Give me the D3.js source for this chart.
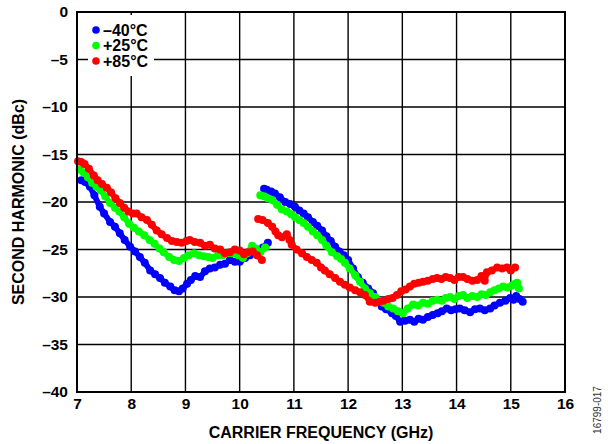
<!DOCTYPE html>
<html><head><meta charset="utf-8">
<script src="https://cdn.jsdelivr.net/npm/d3@7"></script>
<style>body{margin:0;background:#fff}svg{display:block;font-family:"Liberation Sans",Arial,sans-serif}</style>
</head><body><svg id="c" width="608" height="444"></svg>
<script>
const xTicks = [7,8,9,10,11,12,13,14,15,16];
const yTicks = [0,-5,-10,-15,-20,-25,-30,-35,-40];
const seriesNames = ["\u201340\u00B0C","+25\u00B0C","+85\u00B0C"];
const seriesColors = ["#0000ff","#00ff00","#ff0000"];

const blueSeg1 = [[7.08,-17.7],[7.15,-17.9],[7.24,-18.4],[7.32,-19.3],[7.42,-20.5],[7.5,-21.2],[7.61,-22.1],[7.7,-22.6],[7.79,-23.3],[7.88,-24.0],[7.98,-24.7],[8.07,-25.2],[8.16,-25.8],[8.25,-26.4],[8.35,-27.2],[8.44,-27.6],[8.53,-28.0],[8.62,-28.5],[8.72,-28.9],[8.8,-29.3],[8.88,-29.4],[8.95,-29.1],[9.03,-28.6],[9.1,-28.2],[9.18,-27.8],[9.27,-27.9],[9.36,-27.3],[9.45,-27.0],[9.54,-26.9],[9.64,-26.6],[9.73,-26.5],[9.82,-26.1],[9.91,-26.3],[10.0,-26.3],[10.1,-25.9],[10.19,-25.6],[10.27,-25.3],[10.34,-25.1],[10.43,-24.8],[10.52,-24.3]];
const blueSeg2 = [[10.45,-18.6],[10.5,-18.7],[10.58,-18.9],[10.65,-19.1],[10.74,-19.5],[10.84,-20.0],[10.93,-20.2],[11.02,-20.5],[11.1,-20.9],[11.18,-21.2],[11.26,-21.6],[11.35,-22.1],[11.43,-22.5],[11.52,-23.0],[11.6,-23.6],[11.68,-24.1],[11.76,-24.7],[11.84,-25.2],[11.92,-25.6],[12.0,-26.1],[12.09,-27.0],[12.18,-27.9],[12.27,-28.5],[12.37,-29.1],[12.46,-29.6],[12.55,-30.3],[12.62,-31.0],[12.7,-31.3],[12.81,-31.7],[12.88,-32.0],[12.96,-32.6],[13.05,-32.5],[13.14,-32.4],[13.22,-32.6],[13.3,-32.3],[13.38,-32.4],[13.47,-32.1],[13.56,-31.9],[13.65,-31.7],[13.73,-31.5],[13.82,-31.2],[13.9,-31.4],[13.98,-31.3],[14.06,-31.2],[14.15,-31.4],[14.25,-31.6],[14.34,-31.3],[14.43,-31.2],[14.52,-31.4],[14.62,-31.2],[14.7,-30.9],[14.8,-30.6],[14.9,-30.4],[14.99,-30.1],[15.05,-30.3],[15.1,-29.9],[15.16,-30.2],[15.22,-30.5]];
const greenSeg1 = [[7.05,-16.6],[7.12,-16.9],[7.2,-17.4],[7.28,-18.0],[7.36,-18.4],[7.44,-18.8],[7.52,-19.4],[7.61,-20.1],[7.7,-20.6],[7.78,-21.0],[7.87,-21.6],[7.96,-22.3],[8.05,-22.7],[8.14,-23.1],[8.24,-23.5],[8.34,-24.0],[8.43,-24.4],[8.52,-24.9],[8.6,-25.3],[8.7,-25.8],[8.79,-26.1],[8.88,-26.2],[8.97,-25.9],[9.06,-25.6],[9.16,-25.4],[9.25,-25.6],[9.34,-25.7],[9.42,-25.8],[9.5,-25.9],[9.6,-25.6],[9.69,-25.6],[9.78,-25.4],[9.88,-25.4],[9.97,-25.6],[10.06,-25.9],[10.14,-25.4],[10.23,-24.6],[10.3,-24.9],[10.38,-25.3],[10.47,-24.8]];
const greenSeg2 = [[10.38,-19.3],[10.45,-19.4],[10.52,-19.6],[10.6,-19.8],[10.69,-20.3],[10.78,-20.8],[10.87,-21.0],[10.95,-21.3],[11.02,-21.6],[11.1,-21.9],[11.18,-22.2],[11.26,-22.6],[11.35,-23.1],[11.43,-23.5],[11.52,-24.0],[11.6,-24.6],[11.7,-25.3],[11.8,-25.7],[11.87,-26.0],[11.94,-26.4],[12.03,-27.0],[12.13,-27.7],[12.22,-28.4],[12.31,-29.1],[12.4,-29.6],[12.5,-30.0],[12.58,-30.4],[12.65,-30.6],[12.74,-31.0],[12.83,-31.2],[12.92,-31.5],[13.01,-31.7],[13.1,-31.2],[13.2,-30.8],[13.29,-30.9],[13.38,-30.6],[13.47,-30.7],[13.56,-30.4],[13.64,-30.3],[13.73,-30.4],[13.8,-30.1],[13.88,-30.0],[13.96,-30.2],[14.04,-29.9],[14.12,-29.8],[14.2,-30.1],[14.29,-29.9],[14.38,-30.0],[14.46,-29.7],[14.54,-29.8],[14.62,-29.5],[14.7,-29.3],[14.78,-29.1],[14.86,-28.9],[14.94,-29.0],[15.02,-28.8],[15.08,-28.6],[15.12,-28.5],[15.15,-29.1]];
const redSeg1 = [[7.02,-15.7],[7.08,-15.8],[7.14,-16.0],[7.22,-16.5],[7.31,-17.2],[7.38,-17.7],[7.46,-18.1],[7.55,-18.5],[7.63,-19.0],[7.71,-19.6],[7.79,-20.1],[7.87,-20.6],[7.95,-21.0],[8.03,-21.2],[8.1,-21.2],[8.19,-21.6],[8.29,-21.9],[8.38,-22.4],[8.47,-23.0],[8.56,-23.4],[8.66,-23.8],[8.75,-24.1],[8.84,-24.2],[8.93,-24.3],[9.02,-24.1],[9.08,-24.0],[9.17,-24.2],[9.27,-24.3],[9.36,-24.6],[9.45,-24.5],[9.54,-24.9],[9.64,-25.0],[9.73,-25.4],[9.82,-25.3],[9.91,-25.0],[10.0,-25.1],[10.08,-25.5],[10.15,-25.3],[10.24,-25.2],[10.32,-25.6],[10.41,-26.1]];
const redSeg2 = [[10.34,-21.8],[10.42,-21.9],[10.52,-22.2],[10.6,-22.6],[10.66,-23.1],[10.71,-23.5],[10.78,-23.7],[10.87,-23.4],[10.92,-24.0],[10.96,-24.5],[11.05,-25.0],[11.15,-25.4],[11.24,-25.8],[11.33,-26.1],[11.42,-26.4],[11.5,-26.9],[11.57,-27.2],[11.66,-27.6],[11.76,-28.0],[11.85,-28.4],[11.94,-28.7],[12.03,-29.0],[12.13,-29.3],[12.22,-29.5],[12.31,-29.8],[12.4,-30.5],[12.5,-30.6],[12.58,-30.5],[12.65,-30.4],[12.74,-30.2],[12.82,-30.1],[12.9,-29.8],[12.98,-29.4],[13.06,-29.2],[13.14,-28.9],[13.22,-28.6],[13.3,-28.5],[13.38,-28.4],[13.47,-28.3],[13.56,-28.1],[13.64,-28.0],[13.72,-28.1],[13.8,-27.9],[13.88,-28.0],[13.96,-28.2],[14.04,-27.9],[14.12,-27.9],[14.2,-28.1],[14.29,-28.3],[14.38,-28.2],[14.46,-27.8],[14.52,-28.3],[14.56,-27.4],[14.65,-27.2],[14.75,-26.9],[14.84,-27.0],[14.93,-26.9],[15.0,-27.2],[15.08,-26.9]];

const series = [
  {name: seriesNames[0], color: seriesColors[0], segs: [blueSeg1, blueSeg2]},
  {name: seriesNames[1], color: seriesColors[1], segs: [greenSeg1, greenSeg2]},
  {name: seriesNames[2], color: seriesColors[2], segs: [redSeg1, redSeg2]}
];

const svg = d3.select("#c");
const L = 77, R = 565, T = 12, B = 392;
const x = d3.scaleLinear().domain([7,16]).range([L,R]);
const y = d3.scaleLinear().domain([-40,0]).range([B,T]);
const FONT = "'Liberation Sans',Arial,sans-serif";

// grid
const g = svg.append("g");
g.selectAll(".vg").data(xTicks).enter().append("line")
  .attr("x1",d=>x(d)).attr("x2",d=>x(d)).attr("y1",T).attr("y2",B)
  .attr("stroke","#000").attr("stroke-width",1.4);
g.selectAll(".hg").data(yTicks).enter().append("line")
  .attr("x1",L).attr("x2",R).attr("y1",d=>y(d)).attr("y2",d=>y(d))
  .attr("stroke","#000").attr("stroke-width",1.4);

// legend background
svg.append("rect").attr("x",88).attr("y",15).attr("width",66).attr("height",61).attr("fill","#fff");

// data
const line = d3.line().x(d=>x(d[0])).y(d=>y(d[1]));
series.forEach(s=>{
  const gs = svg.append("g");
  s.segs.forEach(seg=>{
    gs.append("path").attr("d",line(seg)).attr("fill","none").attr("stroke",s.color)
      .attr("stroke-width",5.8).attr("stroke-linejoin","round").attr("stroke-linecap","round");
    gs.selectAll(null).data(seg).enter().append("circle")
      .attr("cx",d=>x(d[0])).attr("cy",d=>y(d[1])).attr("r",4).attr("fill",s.color);
  });
});

// frame
svg.append("rect").attr("x",L).attr("y",T).attr("width",R-L).attr("height",B-T)
  .attr("fill","none").attr("stroke","#000").attr("stroke-width",2);

// axes labels
const axX = svg.append("g").attr("transform",`translate(0,${B})`)
  .call(d3.axisBottom(x).tickValues(xTicks).tickSize(0).tickPadding(6).tickFormat(d3.format("d")));
axX.select(".domain").remove();
axX.selectAll("text").attr("font-size",15.5).attr("font-weight","bold").attr("fill","#000")
  .attr("font-family",FONT);

const axY = svg.append("g").attr("transform",`translate(${L},0)`)
  .call(d3.axisLeft(y).tickValues(yTicks).tickSize(0).tickPadding(9)
    .tickFormat(d=> d<0 ? "\u2013"+Math.abs(d) : String(d)));
axY.select(".domain").remove();
axY.selectAll("text").attr("font-size",15.5).attr("font-weight","bold").attr("fill","#000")
  .attr("font-family",FONT);

svg.append("text").attr("x",(L+R)/2).attr("y",438).attr("text-anchor","middle").attr("font-family",FONT)
  .attr("font-size",16).attr("font-weight","bold").text("CARRIER FREQUENCY (GHz)");
svg.append("text").attr("transform",`translate(24,${(T+B)/2}) rotate(-90)`).attr("text-anchor","middle").attr("font-family",FONT)
  .attr("font-size",16).attr("font-weight","bold").text("SECOND HARMONIC (dBc)");

svg.append("text").attr("transform","translate(601,410) rotate(-90)").attr("text-anchor","middle").attr("font-family",FONT)
  .attr("font-size",10).attr("fill","#333").text("16799-017");

// legend
const leg = svg.append("g");
series.forEach((s,i)=>{
  const cy = 30 + i*15.5;
  leg.append("circle").attr("cx",96).attr("cy",cy).attr("r",3.8).attr("fill",s.color);
  leg.append("text").attr("x",103).attr("y",cy+5.5).attr("font-family",FONT).attr("font-size",16).attr("font-weight","bold").text(s.name);
});
</script></body></html>
